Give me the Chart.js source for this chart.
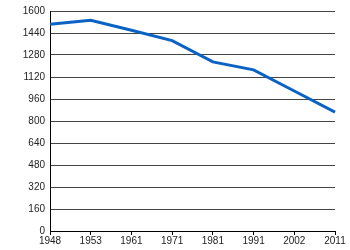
<!DOCTYPE html>
<html>
<head>
<meta charset="utf-8">
<script src="https://cdn.jsdelivr.net/npm/chart.js@4/dist/chart.umd.min.js"></script>
<style>
  html, body { margin: 0; padding: 0; background: #fff; }
  #wrap { width: 350px; height: 250px; }
</style>
</head>
<body>
<div id="wrap"><canvas id="myChart"></canvas></div>
<script>
"use strict"

const years = ["1948", "1953", "1961", "1971", "1981", "1991", "2002", "2011"];
const population = [1503, 1532, 1460, 1385, 1230, 1172, 1018, 865];
const yTicks = [0, 160, 320, 480, 640, 800, 960, 1120, 1280, 1440, 1600];

Chart.defaults.font.family = "'Liberation Sans', Arial, sans-serif";
Chart.defaults.font.size = 10;
Chart.defaults.color = "#222";

const ctx = document.getElementById("myChart").getContext("2d");

new Chart(ctx, {
    type: "line",
    data: {
        labels: years,
        datasets: [{
            data: population,
            borderColor: "#0a63c4",
            borderWidth: 3,
            pointRadius: 0,
            tension: 0,
            fill: false
        }]
    },
    options: {
        responsive: true,
        maintainAspectRatio: false,
        animation: false,
        layout: {
            padding: { top: 4, right: 15, left: 0, bottom: 3 }
        },
        scales: {
            x: {
                offset: false,
                grid: {
                    drawOnChartArea: false,
                    drawTicks: true,
                    tickLength: 4,
                    color: "#000"
                },
                border: { color: "#000", width: 1 },
                ticks: { maxRotation: 0, autoSkip: false, padding: 0 }
            },
            y: {
                min: 0,
                max: 1600,
                afterBuildTicks: (axis) => {
                    axis.ticks = yTicks.map(v => ({ value: v }));
                },
                afterFit: (axis) => {
                    axis.width = 50;
                },
                grid: {
                    color: "#444",
                    drawTicks: false
                },
                border: { color: "#000", width: 1 },
                ticks: {
                    padding: 5,
                    callback: (value) => String(value)
                }
            }
        },
        plugins: {
            legend: { display: false },
            tooltip: { enabled: false }
        }
    }
});
</script>
</body>
</html>
